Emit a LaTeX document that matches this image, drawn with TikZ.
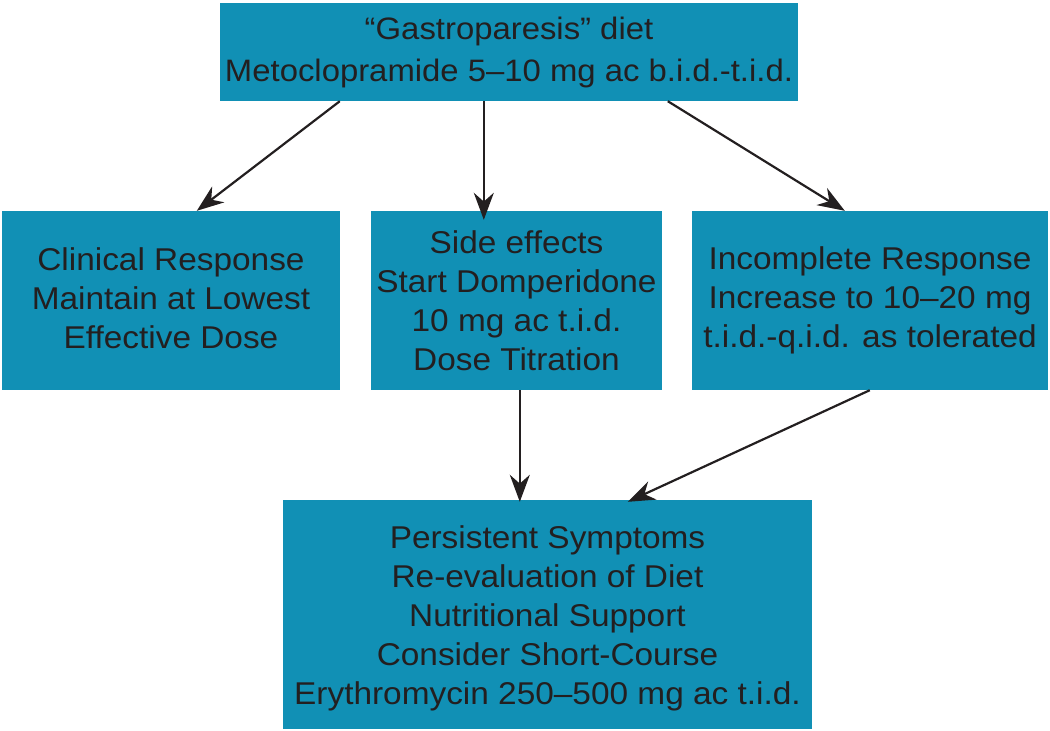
\documentclass[tikz,border=0pt]{standalone}
\usepackage{fontspec}
\setmainfont{Liberation Sans}[FakeStretch=1.06]
\usetikzlibrary{arrows.meta}
\definecolor{boxc}{HTML}{1190B5}
\definecolor{txt}{HTML}{231F20}
\begin{document}
\begin{tikzpicture}[x=1pt,y=-1pt,
  box/.style={fill=boxc,draw=none,inner sep=0pt,text=txt,align=center,
    font=\fontsize{31.5}{39}\selectfont},
  arr/.style={-{Stealth[length=27pt,width=20pt]},line width=2.2pt,draw=txt}]
\useasboundingbox (0,0) rectangle (1050,731);
\node[box,minimum width=578,minimum height=98,font=\fontsize{31}{42}\selectfont] (top) at (509,52) {``Gastroparesis'' diet\\Metoclopramide 5--10 mg ac b.i.d.-t.i.d.};
\node[box,minimum width=338,minimum height=179] (clin) at (171,300.5) {Clinical Response\\Maintain at Lowest\\Effective Dose\rule[-5pt]{0pt}{0pt}};
\node[box,minimum width=291,minimum height=179] (side) at (516.5,300.5) {Side effects\\Start Domperidone\\10 mg ac t.i.d.\\Dose Titration};
\node[box,minimum width=356,minimum height=179] (inc) at (870,300.5) {Incomplete Response\\Increase to 10--20 mg\\t.i.d.-q.i.d. as tolerated};
\node[box,minimum width=529,minimum height=229] (bot) at (547.5,614.5) {\rule{0pt}{30pt}Persistent Symptoms\\Re-evaluation of Diet\\Nutritional Support\\Consider Short-Course\\Erythromycin 250--500 mg ac t.i.d.};
\draw[arr] ([xshift=120]top.south west) -- ([xshift=195]clin.north west);
\draw[arr] ([xshift=264]top.south west) -- ([xshift=113,yshift=-9]side.north west);
\draw[arr] ([xshift=448]top.south west) -- ([xshift=153]inc.north west);
\draw[arr] ([xshift=149]side.south west) -- ([xshift=237,yshift=-2]bot.north west);
\draw[arr] ([xshift=178]inc.south west) -- ([xshift=345,yshift=-2]bot.north west);
\end{tikzpicture}
\end{document}
